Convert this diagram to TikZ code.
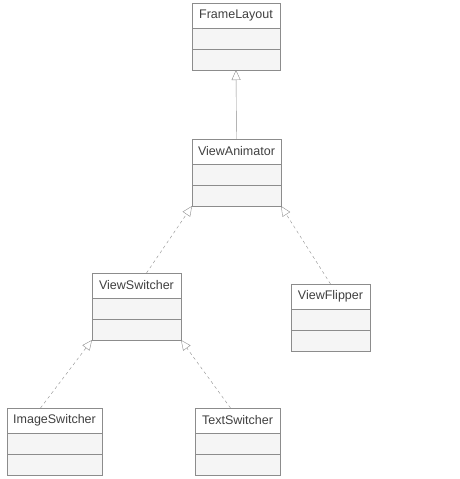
\documentclass[tikz,border=0pt]{standalone}
\usepackage{fontspec}
\setmainfont{Liberation Sans}
\usetikzlibrary{positioning, arrows.meta}

\begin{document}
\begin{tikzpicture}[x=1pt, y=1pt]
    \tikzstyle{every node}=[font=\fontsize{12.5}{14}\selectfont, text=black!75, align=center]
    \tikzset{
        cls/.style={draw=black!45, fill=white, minimum height=25pt, inner sep=0pt, outer sep=0pt},
        cmp/.style={draw=black!45, fill=black!4, minimum height=21pt, inner sep=0pt, outer sep=0pt},
        gen/.style={draw=black!45, -{Triangle[open, length=10pt, width=9pt]}},
        real/.style={gen, dashed}
        }
    \useasboundingbox (0,0) rectangle (459,-479);

    %FrameLayout
    \node (fl) [cls, minimum width=88pt] at (236,-15.5) {FrameLayout};
    \node (fl1) [cmp, minimum width=88pt, below=0pt of fl] {};
    \node (fl2) [cmp, minimum width=88pt, below=0pt of fl1] {};

    %ViewAnimator
    \node (va) [cls, minimum width=89pt] at (236.5,-151.5) {ViewAnimator};
    \node (va1) [cmp, minimum width=89pt, below=0pt of va] {};
    \node (va2) [cmp, minimum width=89pt, below=0pt of va1] {};

    %ViewSwitcher
    \node (vsw) [cls, minimum width=89pt] at (136.5,-285.5) {ViewSwitcher};
    \node (vsw1) [cmp, minimum width=89pt, below=0pt of vsw] {};
    \node (vsw2) [cmp, minimum width=89pt, below=0pt of vsw1] {};

    %ViewFlipper
    \node (vf) [cls, minimum width=79pt] at (330.5,-296.5) {ViewFlipper};
    \node (vf1) [cmp, minimum width=79pt, below=0pt of vf] {};
    \node (vf2) [cmp, minimum width=79pt, below=0pt of vf1] {};

    %ImageSwitcher
    \node (isw) [cls, minimum width=95pt] at (54.5,-420.5) {ImageSwitcher};
    \node (isw1) [cmp, minimum width=95pt, below=0pt of isw] {};
    \node (isw2) [cmp, minimum width=95pt, below=0pt of isw1] {};

    %TextSwitcher
    \node (tsw) [cls, minimum width=85pt] at (237.5,-420.5) {TextSwitcher};
    \node (tsw1) [cmp, minimum width=85pt, below=0pt of tsw] {};
    \node (tsw2) [cmp, minimum width=85pt, below=0pt of tsw1] {};

    \draw[gen] (va.north) -- (fl2.south);
    \draw[real] ([xshift=10pt]vsw.north) -- (va2.south west);
    \draw[real] (vf.north) -- (va2.south east);
    \draw[real] ([xshift=-14pt]isw.north) -- (vsw2.south west);
    \draw[real] ([xshift=-7pt]tsw.north) -- (vsw2.south east);
\end{tikzpicture}
\end{document}
